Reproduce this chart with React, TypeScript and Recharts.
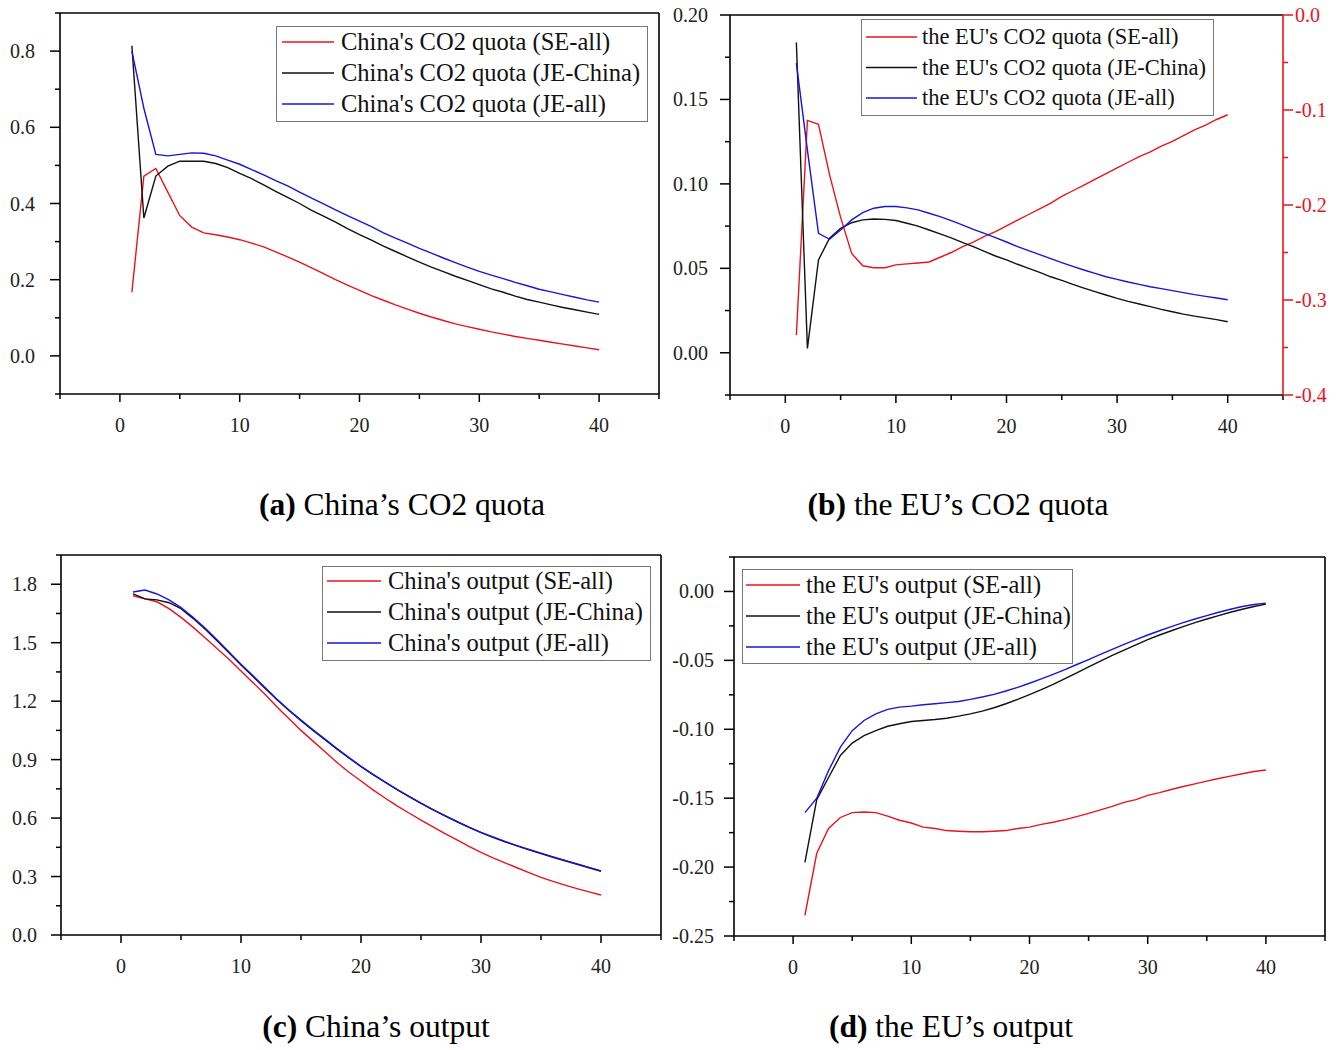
import React from 'react';
import { LineChart, Line, XAxis, YAxis, ReferenceLine } from 'recharts';

const periods = [1,2,3,4,5,6,7,8,9,10,11,12,13,14,15,16,17,18,19,20,21,22,23,24,25,26,27,28,29,30,31,32,33,34,35,36,37,38,39,40];

const chinaQuotaSE = [0.167,0.472,0.492,0.430,0.368,0.338,0.323,0.318,0.312,0.305,0.296,0.286,0.273,0.260,0.246,0.231,0.216,0.200,0.186,0.172,0.158,0.146,0.134,0.123,0.112,0.102,0.093,0.084,0.077,0.070,0.063,0.057,0.051,0.046,0.041,0.036,0.031,0.026,0.021,0.016];
const chinaQuotaJEChina = [0.814,0.362,0.472,0.498,0.511,0.511,0.511,0.505,0.494,0.479,0.465,0.449,0.432,0.416,0.400,0.382,0.367,0.351,0.334,0.318,0.304,0.288,0.274,0.260,0.246,0.233,0.221,0.209,0.198,0.187,0.176,0.167,0.157,0.148,0.141,0.134,0.127,0.121,0.115,0.109];
const chinaQuotaJEAll = [0.800,0.650,0.529,0.525,0.529,0.533,0.532,0.525,0.514,0.503,0.489,0.475,0.460,0.446,0.430,0.414,0.399,0.383,0.368,0.354,0.339,0.323,0.309,0.296,0.282,0.270,0.257,0.245,0.233,0.222,0.212,0.203,0.193,0.184,0.175,0.168,0.161,0.154,0.147,0.141];

const euQuotaSE = [-0.337,-0.111,-0.115,-0.168,-0.213,-0.251,-0.264,-0.266,-0.266,-0.263,-0.262,-0.261,-0.260,-0.255,-0.250,-0.244,-0.239,-0.233,-0.228,-0.222,-0.216,-0.210,-0.204,-0.198,-0.191,-0.185,-0.179,-0.173,-0.167,-0.161,-0.155,-0.149,-0.144,-0.138,-0.133,-0.127,-0.121,-0.116,-0.110,-0.105];
const euQuotaJEChina = [0.1838,0.0026,0.055,0.0678,0.0737,0.077,0.0787,0.0792,0.079,0.0783,0.0767,0.075,0.0727,0.0704,0.068,0.0654,0.0628,0.060,0.0573,0.055,0.0524,0.050,0.0476,0.045,0.0429,0.0405,0.0383,0.0362,0.0342,0.0322,0.0304,0.0289,0.0273,0.0257,0.0243,0.0229,0.0217,0.0207,0.0196,0.0184];
const euQuotaJEAll = [0.1715,0.120,0.0707,0.0672,0.0727,0.0787,0.083,0.0856,0.0866,0.0866,0.0858,0.0846,0.0826,0.0806,0.0783,0.0757,0.0731,0.0707,0.0682,0.0656,0.0628,0.0605,0.0581,0.0557,0.0534,0.0512,0.049,0.047,0.045,0.0435,0.0419,0.0405,0.0391,0.038,0.0368,0.0356,0.0344,0.0334,0.0324,0.0314];

const chinaOutputSE = [1.74,1.725,1.71,1.675,1.63,1.58,1.525,1.47,1.415,1.355,1.295,1.235,1.17,1.11,1.05,0.995,0.94,0.885,0.835,0.79,0.745,0.703,0.663,0.626,0.59,0.555,0.52,0.488,0.455,0.424,0.396,0.37,0.345,0.32,0.296,0.275,0.256,0.238,0.221,0.205];
const chinaOutputJEChina = [1.75,1.725,1.72,1.705,1.675,1.625,1.57,1.51,1.448,1.386,1.326,1.266,1.207,1.152,1.1,1.05,1.002,0.954,0.908,0.864,0.823,0.784,0.746,0.71,0.675,0.642,0.611,0.581,0.552,0.525,0.501,0.478,0.457,0.437,0.418,0.399,0.381,0.363,0.345,0.327];
const chinaOutputJEAll = [1.76,1.77,1.75,1.72,1.68,1.63,1.575,1.515,1.452,1.39,1.33,1.27,1.21,1.155,1.103,1.053,1.005,0.957,0.91,0.866,0.825,0.786,0.748,0.712,0.677,0.644,0.613,0.583,0.554,0.527,0.503,0.48,0.459,0.439,0.42,0.401,0.383,0.365,0.347,0.329];

const euOutputSE = [-0.235,-0.19,-0.172,-0.164,-0.1605,-0.16,-0.1605,-0.163,-0.166,-0.168,-0.171,-0.172,-0.1735,-0.174,-0.1744,-0.1744,-0.174,-0.1735,-0.172,-0.171,-0.169,-0.1675,-0.1656,-0.1634,-0.161,-0.1585,-0.156,-0.153,-0.151,-0.148,-0.146,-0.1437,-0.1415,-0.1396,-0.1376,-0.1357,-0.134,-0.1323,-0.1306,-0.1296];
const euOutputJEChina = [-0.1965,-0.151,-0.135,-0.119,-0.11,-0.1046,-0.101,-0.0978,-0.096,-0.0944,-0.0936,-0.0929,-0.092,-0.0905,-0.0888,-0.0868,-0.0844,-0.0815,-0.0783,-0.0749,-0.0713,-0.0674,-0.0632,-0.0591,-0.0547,-0.0506,-0.0464,-0.0426,-0.0387,-0.035,-0.0316,-0.0285,-0.0255,-0.0226,-0.02,-0.0175,-0.0151,-0.0129,-0.0109,-0.0092];
const euOutputJEAll = [-0.1605,-0.15,-0.13,-0.113,-0.101,-0.0936,-0.0888,-0.0856,-0.0839,-0.0832,-0.0822,-0.0815,-0.0807,-0.0798,-0.0783,-0.0766,-0.0747,-0.0722,-0.0696,-0.0666,-0.0635,-0.0601,-0.0567,-0.053,-0.0494,-0.0457,-0.0421,-0.0384,-0.035,-0.0316,-0.0285,-0.0255,-0.0226,-0.02,-0.0175,-0.0151,-0.0129,-0.0109,-0.0095,-0.0085];

const xTicks = [-5,0,5,10,15,20,25,30,35,40,45];
const xLabels = [0,10,20,30,40];
const yTicksA = [-0.1,0,0.1,0.2,0.3,0.4,0.5,0.6,0.7,0.8,0.9];
const yLabelsA = [0,0.2,0.4,0.6,0.8];
const yTicksBLeft = [-0.025,0,0.025,0.05,0.075,0.1,0.125,0.15,0.175,0.2];
const yLabelsBLeft = [0,0.05,0.1,0.15,0.2];
const yTicksBRight = [-0.4,-0.35,-0.3,-0.25,-0.2,-0.15,-0.1,-0.05,0];
const yLabelsBRight = [-0.4,-0.3,-0.2,-0.1,0];
const yTicksC = [0,0.15,0.3,0.45,0.6,0.75,0.9,1.05,1.2,1.35,1.5,1.65,1.8,1.95];
const yLabelsC = [0,0.3,0.6,0.9,1.2,1.5,1.8];
const yTicksD = [-0.25,-0.225,-0.2,-0.175,-0.15,-0.125,-0.1,-0.075,-0.05,-0.025,0,0.025];
const yLabelsD = [-0.25,-0.2,-0.15,-0.1,-0.05,0];

const legendA = ["China's CO2 quota (SE-all)", "China's CO2 quota (JE-China)", "China's CO2 quota (JE-all)"];
const legendB = ["the EU's CO2 quota (SE-all)", "the EU's CO2 quota (JE-China)", "the EU's CO2 quota (JE-all)"];
const legendC = ["China's output (SE-all)", "China's output (JE-China)", "China's output (JE-all)"];
const legendD = ["the EU's output (SE-all)", "the EU's output (JE-China)", "the EU's output (JE-all)"];

const RED = '#e8141c';
const BLACK = '#111111';
const BLUE = '#1616d8';
const seriesColors = [RED, BLACK, BLUE];
const FONT = "'Liberation Serif', 'Times New Roman', serif";

function rows(a: number[], b: number[], c: number[]) {
  return periods.map((t, i) => ({ t, se: a[i], jc: b[i], ja: c[i] }));
}

const dataA = rows(chinaQuotaSE, chinaQuotaJEChina, chinaQuotaJEAll);
const dataB = rows(euQuotaSE, euQuotaJEChina, euQuotaJEAll);
const dataC = rows(chinaOutputSE, chinaOutputJEChina, chinaOutputJEAll);
const dataD = rows(euOutputSE, euOutputJEChina, euOutputJEAll);

const isIn = (v: number, list: number[]) => list.some((l) => Math.abs(l - v) < 1e-9);

const makeXTick = (labels: number[]) => (props: any) => {
  const { x, y, payload } = props;
  const v = payload.value;
  const major = isIn(v, labels);
  return (
    <g>
      <line x1={x} y1={y} x2={x} y2={y + (major ? 8 : 5)} stroke="#000" strokeWidth={1.5} />
      {major && (
        <text x={x} y={y + 38} textAnchor="middle" fontFamily={FONT} fontSize={20} fill="#222">
          {v}
        </text>
      )}
    </g>
  );
};

const makeYTick = (labels: number[], decimals: number, side: 'left' | 'right', color: string, gap: number) => (props: any) => {
  const { x, y, payload } = props;
  const v = payload.value;
  const major = isIn(v, labels);
  const dir = side === 'left' ? -1 : 1;
  const len = major ? 10 : 5;
  const txt = Math.abs(v) < 1e-9 ? (0).toFixed(decimals) : v.toFixed(decimals);
  return (
    <g>
      <line x1={x} y1={y} x2={x + dir * len} y2={y} stroke={color} strokeWidth={1.5} />
      {major && (
        <text
          x={side === 'left' ? x - gap : x + gap}
          y={y + 7}
          textAnchor={side === 'left' ? 'end' : 'start'}
          fontFamily={FONT}
          fontSize={20}
          fill={color === '#000' ? '#222' : color}
        >
          {txt}
        </text>
      )}
    </g>
  );
};

function LegendBox(props: {
  left: number; top: number; width: number; height: number; items: string[]; fontSize: number;
  lx1: number; lx2: number; tx: number; y0: number; step: number;
}) {
  const { left, top, width, height, items, fontSize, lx1, lx2, tx, y0, step } = props;
  return (
    <svg style={{ position: 'absolute', left, top }} width={width} height={height}>
      <rect x={0.5} y={0.5} width={width - 1} height={height - 1} fill="#fff" stroke="#777" strokeWidth={1} />
      {items.map((it, i) => (
        <g key={it}>
          <line x1={lx1} x2={lx2} y1={y0 + i * step} y2={y0 + i * step} stroke={seriesColors[i]} strokeWidth={1.5} />
          <text x={tx} y={y0 + i * step + fontSize * 0.33} fontFamily={FONT} fontSize={fontSize} fill="#111">
            {it}
          </text>
        </g>
      ))}
    </svg>
  );
}

function Caption(props: { cx: number; cy: number; letter: string; text: string }) {
  const { cx, cy, letter, text } = props;
  return (
    <div
      style={{
        position: 'absolute', left: cx - 300, top: cy - 18, width: 600, textAlign: 'center',
        fontFamily: FONT, fontSize: 31.5, lineHeight: '36px', color: '#000', whiteSpace: 'nowrap',
      }}
    >
      <b>({letter})</b>
      <span>{' ' + text}</span>
    </div>
  );
}

const axisLine = { stroke: '#000', strokeWidth: 1.6 };

function lines(leftId: string, seId: string) {
  return [
    <Line key="se" yAxisId={seId} type="linear" dataKey="se" stroke={RED} strokeWidth={1.4} dot={false} isAnimationActive={false} />,
    <Line key="jc" yAxisId={leftId} type="linear" dataKey="jc" stroke={BLACK} strokeWidth={1.4} dot={false} isAnimationActive={false} />,
    <Line key="ja" yAxisId={leftId} type="linear" dataKey="ja" stroke={BLUE} strokeWidth={1.4} dot={false} isAnimationActive={false} />,
  ];
}

export default function App() {
  return (
    <div style={{ position: 'absolute', left: 0, top: 0, width: 1341, height: 1050, background: '#fff' }}>
      {/* Panel a */}
      <div style={{ position: 'absolute', left: 0, top: 0 }}>
        <LineChart width={690} height={460} data={dataA} margin={{ top: 13, right: 31, bottom: 26, left: 0 }}>
          <XAxis dataKey="t" type="number" domain={[-5, 45]} ticks={xTicks} allowDataOverflow height={40}
            tickSize={0} tickMargin={0} tickLine={false} axisLine={axisLine} tick={makeXTick(xLabels)} interval={0} />
          <YAxis yAxisId="l" type="number" domain={[-0.1, 0.9]} ticks={yTicksA} allowDataOverflow width={60}
            tickSize={0} tickMargin={0} tickLine={false} axisLine={axisLine} tick={makeYTick(yLabelsA, 1, 'left', '#000', 25)} interval={0} />
          <ReferenceLine yAxisId="l" x={45} stroke="#000" strokeWidth={1.6} />
          <ReferenceLine yAxisId="l" y={0.9} stroke="#000" strokeWidth={1.6} />
          {lines('l', 'l')}
        </LineChart>
      </div>
      <LegendBox left={276} top={26} width={372} height={96} items={legendA} fontSize={24.5}
        lx1={6} lx2={58} tx={65} y0={16} step={31} />

      {/* Panel b */}
      <div style={{ position: 'absolute', left: 660, top: 0 }}>
        <LineChart width={681} height={460} data={dataB} margin={{ top: 15, right: 0, bottom: 25, left: 0 }}>
          <XAxis dataKey="t" type="number" domain={[-5, 45]} ticks={xTicks} allowDataOverflow height={40}
            tickSize={0} tickMargin={0} tickLine={false} axisLine={axisLine} tick={makeXTick(xLabels)} interval={0} />
          <YAxis yAxisId="l" type="number" domain={[-0.025, 0.2]} ticks={yTicksBLeft} allowDataOverflow width={70}
            tickSize={0} tickMargin={0} tickLine={false} axisLine={axisLine} tick={makeYTick(yLabelsBLeft, 2, 'left', '#000', 22)} interval={0} />
          <YAxis yAxisId="r" orientation="right" type="number" domain={[-0.4, 0]} ticks={yTicksBRight} allowDataOverflow width={58}
            tickSize={0} tickMargin={0} tickLine={false} axisLine={{ stroke: RED, strokeWidth: 1.6 }} tick={makeYTick(yLabelsBRight, 1, 'right', RED, 12)} interval={0} />
          <ReferenceLine yAxisId="l" y={0.2} stroke="#000" strokeWidth={1.6} />
          {lines('l', 'r')}
        </LineChart>
      </div>
      <LegendBox left={861} top={19} width={353} height={97} items={legendB} fontSize={22.5}
        lx1={5} lx2={56} tx={61} y0={18} step={30.5} />

      {/* Panel c */}
      <div style={{ position: 'absolute', left: 0, top: 540 }}>
        <LineChart width={690} height={470} data={dataC} margin={{ top: 15, right: 29, bottom: 35, left: 0 }}>
          <XAxis dataKey="t" type="number" domain={[-5, 45]} ticks={xTicks} allowDataOverflow height={40}
            tickSize={0} tickMargin={0} tickLine={false} axisLine={axisLine} tick={makeXTick(xLabels)} interval={0} />
          <YAxis yAxisId="l" type="number" domain={[0, 1.95]} ticks={yTicksC} allowDataOverflow width={61}
            tickSize={0} tickMargin={0} tickLine={false} axisLine={axisLine} tick={makeYTick(yLabelsC, 1, 'left', '#000', 24)} interval={0} />
          <ReferenceLine yAxisId="l" x={45} stroke="#000" strokeWidth={1.6} />
          <ReferenceLine yAxisId="l" y={1.95} stroke="#000" strokeWidth={1.6} />
          {lines('l', 'l')}
        </LineChart>
      </div>
      <LegendBox left={322} top={566} width={329} height={95} items={legendC} fontSize={24.5}
        lx1={5} lx2={59} tx={66} y0={15} step={31} />

      {/* Panel d */}
      <div style={{ position: 'absolute', left: 660, top: 540 }}>
        <LineChart width={681} height={470} data={dataD} margin={{ top: 17, right: 16, bottom: 34, left: 0 }}>
          <XAxis dataKey="t" type="number" domain={[-5, 45]} ticks={xTicks} allowDataOverflow height={40}
            tickSize={0} tickMargin={0} tickLine={false} axisLine={axisLine} tick={makeXTick(xLabels)} interval={0} />
          <YAxis yAxisId="l" type="number" domain={[-0.25, 0.025]} ticks={yTicksD} allowDataOverflow width={74}
            tickSize={0} tickMargin={0} tickLine={false} axisLine={axisLine} tick={makeYTick(yLabelsD, 2, 'left', '#000', 20)} interval={0} />
          <ReferenceLine yAxisId="l" x={45} stroke="#000" strokeWidth={1.6} />
          <ReferenceLine yAxisId="l" y={0.025} stroke="#000" strokeWidth={1.6} />
          {lines('l', 'l')}
        </LineChart>
      </div>
      <LegendBox left={742} top={569} width={331} height={95} items={legendD} fontSize={24.5}
        lx1={4} lx2={58} tx={64} y0={16} step={31} />

      <Caption cx={402} cy={505} letter="a" text="China’s CO2 quota" />
      <Caption cx={958} cy={505} letter="b" text="the EU’s CO2 quota" />
      <Caption cx={376} cy={1027} letter="c" text="China’s output" />
      <Caption cx={951} cy={1027} letter="d" text="the EU’s output" />
    </div>
  );
}
